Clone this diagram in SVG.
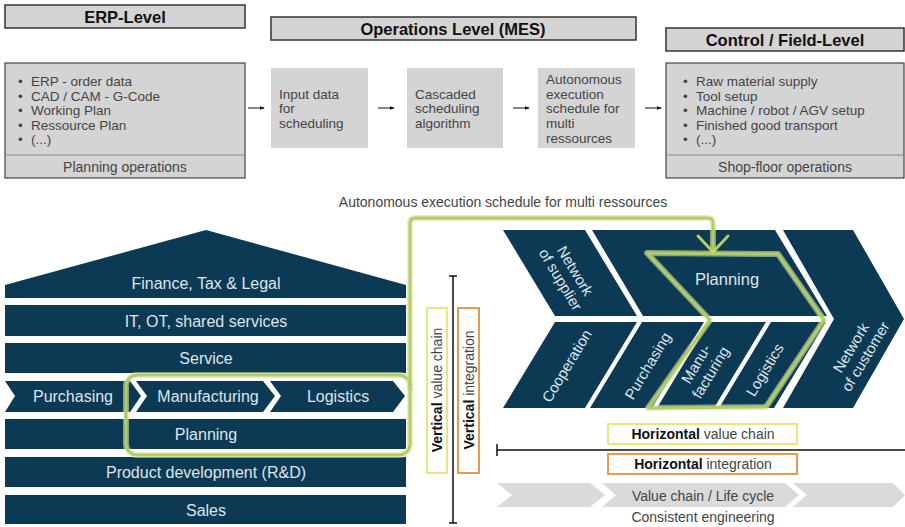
<svg xmlns="http://www.w3.org/2000/svg" width="905" height="527" viewBox="0 0 905 527">
<defs>
<style>
text{font-family:"Liberation Sans",Arial,sans-serif;}
.hdr{fill:#d4d4d4;stroke:#333;stroke-width:1.5;}
.hdrt{font-size:16.5px;font-weight:bold;fill:#111;text-anchor:middle;}
.box{fill:#d4d4d4;stroke:#444;stroke-width:1.2;}
.div{stroke:#888;stroke-width:1.2;}
.bt{font-size:13.5px;fill:#444;}
.ct{font-size:14px;fill:#444;text-anchor:middle;}
.mes{fill:#d4d4d4;}
.navy{fill:#0c3a55;}
.wt{font-size:16px;fill:#dfe5ea;text-anchor:middle;}
.rt{font-size:15px;fill:#dfe5ea;text-anchor:middle;}
.grn{fill:none;stroke:#b3cc66;stroke-width:3;stroke-linejoin:round;stroke-linecap:round;}
.grn2{fill:none;stroke:#d6e5a4;stroke-width:6;stroke-linejoin:round;stroke-linecap:round;opacity:0.6;}
.ylw{fill:#fff;stroke:#e8e470;stroke-width:1.8;}
.org{fill:#fff;stroke:#e0923c;stroke-width:1.8;}
.lab{font-size:14px;fill:#444;text-anchor:middle;}
.bold{font-weight:bold;fill:#111;}
.gch{fill:#dadada;}
.ax{stroke:#111;stroke-width:1.5;fill:none;}
.arr{stroke:#111;stroke-width:1;fill:none;marker-end:url(#ah);}
</style>
<marker id="ah" viewBox="0 0 6 6" refX="5" refY="3" markerWidth="5" markerHeight="5" orient="auto"><path d="M0,0.8 L6,3 L0,5.2 Z" fill="#111"/></marker>
</defs>
<rect width="905" height="527" fill="#fff"/>

<!-- Top row -->
<g id="erp-header"><rect class="hdr" x="5" y="5" width="240" height="23"/><text class="hdrt" x="125" y="22.5">ERP-Level</text></g>
<g id="mes-header"><rect class="hdr" x="271" y="17" width="365" height="23"/><text class="hdrt" x="453" y="34.5">Operations Level (MES)</text></g>
<g id="field-header"><rect class="hdr" x="666" y="28" width="238" height="23"/><text class="hdrt" x="785" y="45.5">Control / Field-Level</text></g>

<g id="erp-box">
<rect class="box" x="5" y="63" width="240" height="115"/>
<line class="div" x1="5" y1="155" x2="245" y2="155"/>
<text class="bt"><tspan x="18" y="86">•</tspan><tspan x="31" y="86">ERP - order data</tspan></text>
<text class="bt"><tspan x="18" y="101">•</tspan><tspan x="31" y="101">CAD / CAM - G-Code</tspan></text>
<text class="bt"><tspan x="18" y="115">•</tspan><tspan x="31" y="115">Working Plan</tspan></text>
<text class="bt"><tspan x="18" y="130">•</tspan><tspan x="31" y="130">Ressource Plan</tspan></text>
<text class="bt"><tspan x="18" y="144">•</tspan><tspan x="31" y="144">(...)</tspan></text>
<text class="ct" x="125" y="172">Planning operations</text>
</g>

<g id="input-box"><rect class="mes" x="271" y="68" width="97" height="80"/>
<text class="bt"><tspan x="279" y="99">Input data</tspan><tspan x="279" y="113">for</tspan><tspan x="279" y="128">scheduling</tspan></text></g>
<g id="cascaded-box"><rect class="mes" x="407" y="68" width="96" height="80"/>
<text class="bt"><tspan x="415" y="99">Cascaded</tspan><tspan x="415" y="113">scheduling</tspan><tspan x="415" y="128">algorithm</tspan></text></g>
<g id="autonomous-box"><rect class="mes" x="538" y="68" width="97" height="80"/>
<text class="bt"><tspan x="546" y="84">Autonomous</tspan><tspan x="546" y="99">execution</tspan><tspan x="546" y="113">schedule for</tspan><tspan x="546" y="128">multi</tspan><tspan x="546" y="143">ressources</tspan></text></g>

<g id="field-box">
<rect class="box" x="666" y="63" width="238" height="115"/>
<line class="div" x1="666" y1="155" x2="904" y2="155"/>
<text class="bt"><tspan x="683" y="86">•</tspan><tspan x="696" y="86">Raw material supply</tspan></text>
<text class="bt"><tspan x="683" y="101">•</tspan><tspan x="696" y="101">Tool setup</tspan></text>
<text class="bt"><tspan x="683" y="115">•</tspan><tspan x="696" y="115">Machine / robot / AGV setup</tspan></text>
<text class="bt"><tspan x="683" y="130">•</tspan><tspan x="696" y="130">Finished good transport</tspan></text>
<text class="bt"><tspan x="683" y="144">•</tspan><tspan x="696" y="144">(...)</tspan></text>
<text class="ct" x="785" y="172">Shop-floor operations</text>
</g>

<!-- House -->
<g id="finance"><polygon class="navy" points="5,285 206,230 406,285 406,298 5,298"/><text class="wt" x="206" y="289">Finance, Tax &amp; Legal</text></g>
<g id="it"><rect class="navy" x="5" y="305" width="401" height="31"/><text class="wt" x="206" y="327">IT, OT, shared services</text></g>
<g id="service"><rect class="navy" x="5" y="343" width="401" height="30"/><text class="wt" x="206" y="364">Service</text></g>
<g id="purchasing-l"><polygon class="navy" points="5,381 130,381 141,396 130,412 5,412 15,396"/><text class="wt" x="73" y="402">Purchasing</text></g>
<g id="manufacturing-l"><polygon class="navy" points="136,381 263,381 275,396 263,412 136,412 147,396"/><text class="wt" x="208" y="402">Manufacturing</text></g>
<g id="logistics-l"><polygon class="navy" points="270,381 393,381 405,396 393,412 270,412 281,396"/><text class="wt" x="338" y="402">Logistics</text></g>
<g id="planning-l"><rect class="navy" x="5" y="419" width="401" height="30"/><text class="wt" x="206" y="440">Planning</text></g>
<g id="rnd"><rect class="navy" x="5" y="457" width="401" height="30"/><text class="wt" x="206" y="478">Product development (R&amp;D)</text></g>
<g id="sales"><rect class="navy" x="5" y="495" width="401" height="29"/><text class="wt" x="206" y="516">Sales</text></g>

<!-- Right chevrons -->
<g id="net-supplier"><polygon class="navy" points="503,230 585,230 637,316 555,316"/>
<text class="rt" transform="translate(568,275) rotate(59)"><tspan x="0" y="-3">Network</tspan><tspan x="0" y="14">of supplier</tspan></text></g>
<g id="planning-r"><polygon class="navy" points="592,230 775,230 827,316 643,316"/><text class="wt" x="727" y="285" style="font-size:16.5px">Planning</text></g>
<g id="net-customer"><polygon class="navy" points="783,230 853,230 904,319 853,408 783,408 834,319"/>
<text class="rt" transform="translate(858,352) rotate(-59)"><tspan x="0" y="-3">Network</tspan><tspan x="0" y="14">of customer</tspan></text></g>
<g id="cooperation"><polygon class="navy" points="555,322 637,322 585,408 503,408"/>
<text class="rt" transform="translate(567,366) rotate(-59)"><tspan x="0" y="5">Cooperation</tspan></text></g>
<g id="purchasing-r"><polygon class="navy" points="642,322 704,322 652,408 590,408"/>
<text class="rt" transform="translate(648,366) rotate(-59)"><tspan x="0" y="5">Purchasing</tspan></text></g>
<g id="manufacturing-r"><polygon class="navy" points="709,322 766,322 714,408 657,408"/>
<text class="rt" transform="translate(703,368) rotate(-59)"><tspan x="0" y="-3">Manu-</tspan><tspan x="0" y="14">facturing</tspan></text></g>
<g id="logistics-r"><polygon class="navy" points="771,322 826,322 774,408 719,408"/>
<text class="rt" transform="translate(765,370) rotate(-59)"><tspan x="0" y="5">Logistics</tspan></text></g>

<!-- Labels -->
<g id="vert-value-chain"><rect class="ylw" x="427" y="308" width="20" height="165"/>
<text class="lab" transform="translate(442,390) rotate(-90)"><tspan class="bold">Vertical</tspan> value chain</text></g>
<g id="vert-integration"><rect class="org" x="458" y="308" width="21" height="165"/>
<text class="lab" transform="translate(474,390) rotate(-90)"><tspan class="bold">Vertical</tspan> integration</text></g>
<g id="hor-value-chain"><rect class="ylw" x="608" y="424" width="189" height="20"/>
<text class="lab" x="703" y="439"><tspan class="bold">Horizontal</tspan> value chain</text></g>
<g id="hor-integration"><rect class="org" x="608" y="454" width="189" height="20"/>
<text class="lab" x="703" y="469"><tspan class="bold">Horizontal</tspan> integration</text></g>
<g id="axes">
<path class="ax" d="M453,276 V523 M449,276 H457 M449,523 H457"/>
<path class="ax" d="M497,450 H905 M497,444 V456"/>
</g>
<g id="value-chain">
<polygon class="gch" points="497,483 590,483 605,495 590,507 497,507 512,495"/>
<polygon class="gch" points="602,483 785,483 799,495 785,507 602,507 616,495"/>
<polygon class="gch" points="793,483 893,483 905,495 893,507 793,507 807,495"/>
<text class="lab" x="703" y="501">Value chain / Life cycle</text>
<text class="lab" x="703" y="522">Consistent engineering</text>
</g>

<text class="lab" x="503" y="207" style="font-size:14px">Autonomous execution schedule for multi ressources</text>

<!-- Connectors -->
<g id="connectors">
<line class="arr" x1="248" y1="108" x2="264" y2="108"/>
<line class="arr" x1="378" y1="108" x2="394" y2="108"/>
<line class="arr" x1="513" y1="108" x2="529" y2="108"/>
<line class="arr" x1="645" y1="108" x2="661" y2="108"/>
<g id="green-link">
<rect class="grn2" x="126" y="375" width="284" height="80" rx="11"/>
<rect class="grn" x="126" y="375" width="284" height="80" rx="11"/>
<path class="grn2" d="M410,390 V223 Q410,218 415,218 H708 Q713,218 713,223 V251"/>
<path class="grn" d="M410,390 V223 Q410,218 415,218 H708 Q713,218 713,223 V251"/>
<polyline class="grn" points="698,236 713,252 728,236"/>
<polygon class="grn2" points="647,253 778,254 824,320 766,407 648,408 710,320"/>
<polygon class="grn" points="647,253 778,254 824,320 766,407 648,408 710,320"/>
</g>
</g>
</svg>
